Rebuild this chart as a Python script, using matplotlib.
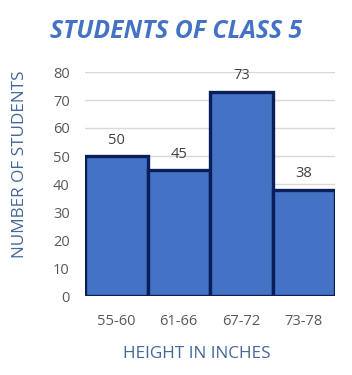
import matplotlib
matplotlib.use("Agg")
import matplotlib.pyplot as plt

categories = ["55-60", "61-66", "67-72", "73-78"]
students = [50, 45, 73, 38]
yticks = [0, 10, 20, 30, 40, 50, 60, 70, 80]

plt.rcParams['font.family'] = ['Open Sans', 'DejaVu Sans']

fig = plt.figure(figsize=(3.52, 3.75), dpi=100)
ax = fig.add_axes([85/352, 1-296/375, 250/352, 224/375])

x = range(len(categories))
bars = ax.bar(x, students, width=1.0, color="#4472C4", edgecolor="#0A1E5A",
              linewidth=2.4, zorder=3)
ax.set_xlim(-0.5, len(categories)-0.5)
ax.set_ylim(0, 80)
ax.set_yticks(yticks)
ax.set_xticks(list(x))
ax.set_xticklabels(categories)
ax.grid(axis='y', color="#D9D9D9", linewidth=1, zorder=0)
ax.set_axisbelow(True)
for s in ax.spines.values():
    s.set_visible(False)
ax.tick_params(length=0, colors="#595959", labelsize=10.5)
ax.tick_params(axis='x', pad=13)
ax.tick_params(axis='y', pad=11)
for b, v in zip(bars, students):
    ax.annotate(str(v), (b.get_x()+b.get_width()/2, v), xytext=(0, 6),
                textcoords='offset points', ha='center', va='bottom',
                color="#404040", fontsize=10.5)

fig.text(176/352, 1-32/375, "STUDENTS OF CLASS 5", ha='center', va='center',
         fontsize=17.8, fontweight='bold', fontstyle='italic', color="#4472C4")
fig.text(20/352, 1-164/375, "NUMBER OF STUDENTS", rotation=90, ha='center',
         va='center', fontsize=12.3, color="#44679A")
fig.text(197/352, 1-354/375, "HEIGHT IN INCHES", ha='center', va='center',
         fontsize=12.3, color="#44679A")

fig.savefig("out.png", dpi=100, facecolor="white")
